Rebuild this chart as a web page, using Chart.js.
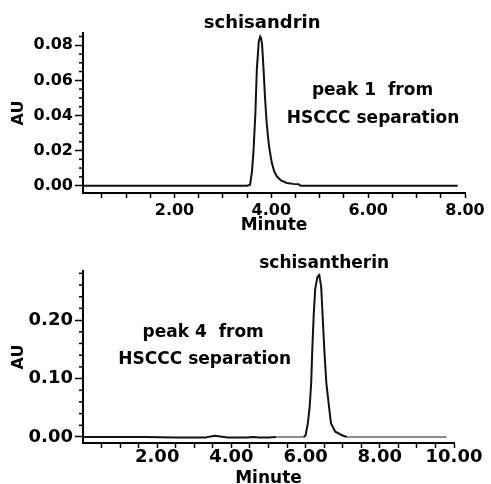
<!DOCTYPE html>
<html>
<head>
<meta charset="utf-8">
<script src="https://cdn.jsdelivr.net/npm/chart.js@4.4.0/dist/chart.umd.min.js"></script>
<style>
html, body { margin:0; padding:0; background:#fff; overflow:hidden; width:491px; height:484px; }
canvas { position:absolute; left:0; }
#topChart { top:0; }
#bottomChart { top:240px; }
</style>
</head>
<body>
<canvas id="topChart" width="491" height="240"></canvas>
<canvas id="bottomChart" width="491" height="250"></canvas>
<script>
// ---- data: peak 1 from HSCCC (schisandrin) ----
const timeTop = [0.11, 1.0, 2.0, 3.0, 3.5, 3.56, 3.60, 3.63, 3.67, 3.70, 3.74, 3.77, 3.79, 3.81, 3.84, 3.87, 3.90, 3.93, 3.96, 4.01, 4.06, 4.12, 4.20, 4.32, 4.45, 4.56, 4.60, 7.85];
const auTop   = [0, 0, 0, 0, 0, 0.0005, 0.008, 0.019, 0.041, 0.066, 0.082, 0.085, 0.084, 0.080, 0.066, 0.050, 0.037, 0.028, 0.021, 0.013, 0.008, 0.005, 0.003, 0.0015, 0.001, 0.0008, 0, 0];

// ---- data: peak 4 from HSCCC (schisantherin) ----
const timeBottom = [0, 1.7, 2.5, 3.3, 3.45, 3.55, 3.7, 3.9, 4.4, 4.6, 4.75, 5.0, 5.2, 5.95, 6.0, 6.06, 6.11, 6.15, 6.18, 6.22, 6.26, 6.32, 6.37, 6.42, 6.46, 6.51, 6.56, 6.62, 6.685, 6.80, 6.98, 7.11, 9.8];
const auBottom   = [0, 0, -0.001, -0.001, 0.001, 0.002, 0.001, -0.001, -0.001, 0, -0.001, -0.001, 0, 0, 0.003, 0.023, 0.052, 0.092, 0.149, 0.211, 0.254, 0.274, 0.277, 0.257, 0.206, 0.143, 0.092, 0.058, 0.023, 0.009, 0.003, 0, 0];

// ---- ticks ----
const xTicksTop    = [0.5, 1, 1.5, 2, 2.5, 3, 3.5, 4, 4.5, 5, 5.5, 6, 6.5, 7, 7.5, 8];
const xLabelsTop   = [2, 4, 6, 8];
const yTicksTop    = [0, 0.02, 0.04, 0.06, 0.08];
const yMinorTop    = [0.005, 0.01, 0.015, 0.025, 0.03, 0.035, 0.045, 0.05, 0.055, 0.065, 0.07, 0.075, 0.085];

const xTicksBottom  = [0.5, 1, 1.5, 2, 2.5, 3, 3.5, 4, 4.5, 5, 5.5, 6, 6.5, 7, 7.5, 8, 8.5, 9, 9.5, 10];
const xLabelsBottom = [2, 4, 6, 8, 10];
const yTicksBottom  = [0, 0.1, 0.2];
const yMinorBottom  = [0.02, 0.04, 0.06, 0.08, 0.12, 0.14, 0.16, 0.18, 0.22, 0.24, 0.26, 0.28];

// ---- text ----
const notesTop    = ['schisandrin', 'peak 1  from', 'HSCCC separation'];
const notesBottom = ['schisantherin', 'peak 4  from', 'HSCCC separation'];

Chart.defaults.font.family = "'DejaVu Sans', sans-serif";
Chart.defaults.font.weight = 'bold';
Chart.defaults.color = '#000';

// minor ticks on the y axis + text labels placed in data units
const extras = {
    id: 'extras',
    afterDraw(chart) {
        const o = chart.config.options.extras;
        const ctx = chart.ctx, xs = chart.scales.x, ys = chart.scales.y;
        const left = chart.chartArea.left;
        ctx.save();
        ctx.strokeStyle = '#000';
        ctx.lineWidth = 1.5;
        o.minor.forEach(v => {
            const py = ys.getPixelForValue(v);
            ctx.beginPath();
            ctx.moveTo(left - 4, py);
            ctx.lineTo(left, py);
            ctx.stroke();
        });
        ctx.fillStyle = '#000';
        ctx.textAlign = 'center';
        ctx.textBaseline = 'middle';
        o.notes.forEach((t, i) => {
            const p = o.pos[i];
            ctx.font = 'bold ' + p[2] + "px 'DejaVu Sans'";
            ctx.fillText(t, xs.getPixelForValue(p[0]), ys.getPixelForValue(p[1]));
        });
        ctx.restore();
    }
};

function makeChart(id, c) {
    const pts = c.time.map((t, i) => ({ x: t, y: c.au[i] }));
    return new Chart(document.getElementById(id).getContext('2d'), {
        type: 'line',
        data: { datasets: [{
            data: pts,
            borderColor: '#111',
            borderWidth: 2,
            pointRadius: 0,
            tension: 0,
            segment: c.segment
        }] },
        options: {
            responsive: false,
            animation: false,
            devicePixelRatio: 1,
            layout: { padding: c.padding },
            plugins: { legend: { display: false }, tooltip: { enabled: false } },
            extras: { minor: c.minor, notes: c.notes, pos: c.notePos },
            scales: {
                x: {
                    type: 'linear', min: c.xMin, max: c.xMax,
                    afterBuildTicks: s => { s.ticks = c.xTicks.map(v => ({ value: v })); },
                    afterFit: s => { s.height = c.xHeight; },
                    border: { color: '#000', width: 2 },
                    grid: { drawOnChartArea: false, tickLength: 5, tickColor: '#000', tickWidth: 1.5 },
                    ticks: {
                        autoSkip: false, maxRotation: 0, padding: c.xPad,
                        font: { size: c.tickSize, weight: 'bold' },
                        callback: v => c.xLabels.includes(v) ? v.toFixed(2) : ''
                    },
                    title: { display: true, text: 'Minute', font: { size: 17, weight: 'bold' }, padding: { top: 0, bottom: c.titlePad } }
                },
                y: {
                    min: c.yMin, max: c.yMax,
                    afterBuildTicks: s => { s.ticks = c.yTicks.map(v => ({ value: v })); },
                    afterFit: s => { s.width = 83; },
                    border: { color: '#000', width: 2 },
                    grid: { drawOnChartArea: false, tickLength: 8, tickColor: '#000', tickWidth: 1.5 },
                    ticks: { padding: 2, font: { size: c.tickSize, weight: 'bold' }, callback: v => v.toFixed(2) },
                    title: { display: true, text: 'AU', font: { size: 16, weight: 'bold' }, padding: { top: 9, bottom: 0 } }
                }
            }
        },
        plugins: [extras]
    });
}

makeChart('topChart', {
    time: timeTop, au: auTop,
    xMin: 0.11, xMax: 8.0, yMin: -0.0042, yMax: 0.087,
    xTicks: xTicksTop, xLabels: xLabelsTop, yTicks: yTicksTop, minor: yMinorTop,
    padding: { left: 0, top: 33, right: 26, bottom: 0 },
    xHeight: 47, xPad: 3, titlePad: 4, tickSize: 16,
    notes: notesTop,
    notePos: [[3.81, 0.0925, 18], [6.09, 0.054, 17], [6.10, 0.0385, 17]]
});

makeChart('bottomChart', {
    time: timeBottom, au: auBottom,
    xMin: 0, xMax: 10, yMin: -0.0103, yMax: 0.284,
    xTicks: xTicksBottom, xLabels: xLabelsBottom, yTicks: yTicksBottom, minor: yMinorBottom,
    padding: { left: 0, top: 31, right: 37, bottom: 0 },
    xHeight: 47, xPad: -1, titlePad: 1, tickSize: 18,
    notes: notesBottom,
    notePos: [[6.5, 0.2974, 17], [3.24, 0.178, 17], [3.28, 0.1316, 17]],
    // flat baseline after ~1.7 min comes out grey in the original trace
    segment: { borderColor: ctx => (ctx.p0.parsed.x >= 1.7 && ctx.p0.parsed.y === 0 && ctx.p1.parsed.y === 0) ? '#8c8c8c' : undefined }
});
</script>
</body>
</html>
